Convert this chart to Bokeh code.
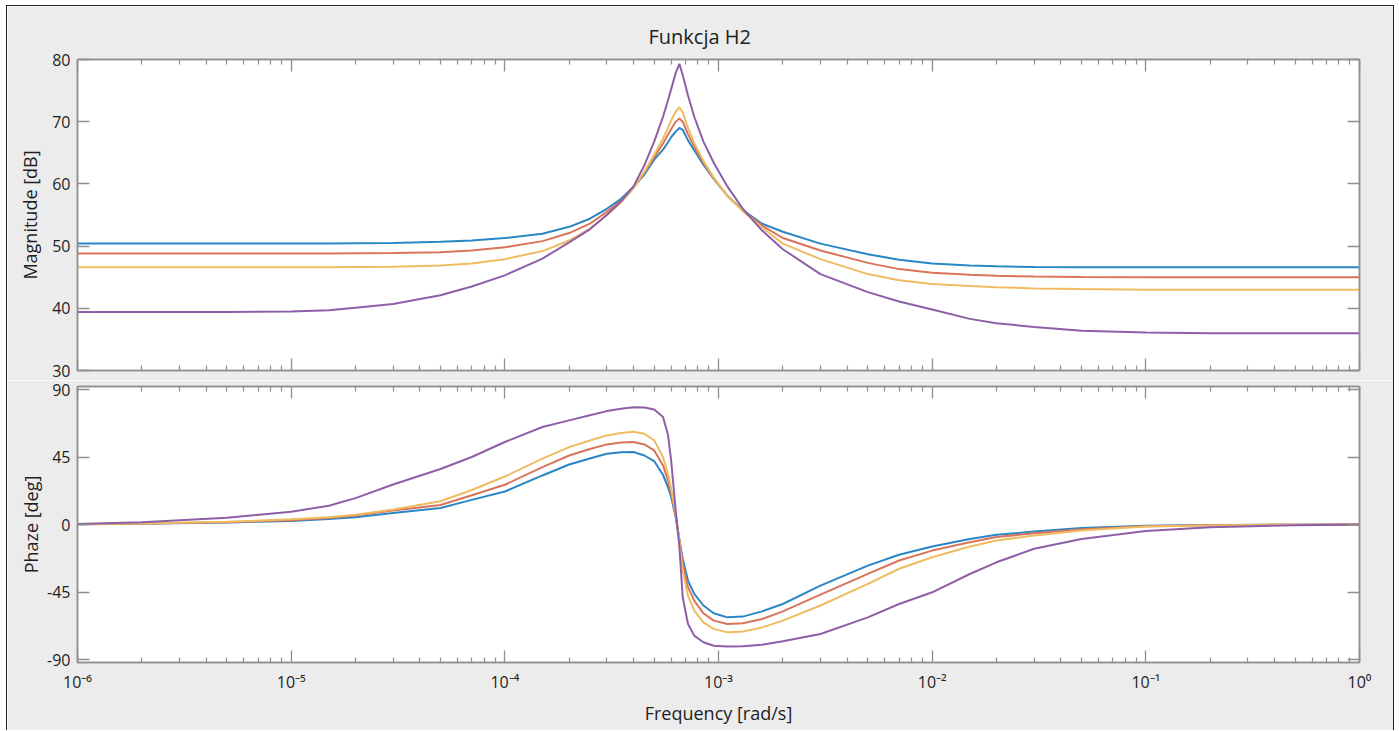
from bokeh.plotting import figure
from bokeh.models import LogAxis, LinearAxis, FixedTicker, Range1d, CustomJSTickFormatter
from bokeh.layouts import column
from bokeh.embed import file_html
from bokeh.resources import INLINE

# ---------------- data ----------------
freq = [1e-6, 2e-6, 5e-6, 1e-5, 1.5e-5, 2e-5, 3e-5, 5e-5, 7e-5, 1e-4, 1.5e-4, 2e-4, 2.5e-4,
        3e-4, 3.5e-4, 4e-4, 4.5e-4, 5e-4, 5.5e-4, 5.8e-4, 6e-4, 6.3e-4, 6.56e-4, 6.8e-4,
        7.2e-4, 7.7e-4, 8.5e-4, 9.5e-4, 1.1e-3, 1.3e-3, 1.6e-3, 2e-3, 3e-3, 5e-3, 7e-3,
        1e-2, 1.5e-2, 2e-2, 3e-2, 5e-2, 0.1, 0.2, 0.5, 1.0]

mag_blue = [50.4, 50.4, 50.4, 50.4, 50.4, 50.45, 50.5, 50.7, 50.9, 51.3, 52.0, 53.1, 54.4,
            56.0, 57.6, 59.5, 61.5, 63.9, 65.5, 66.7, 67.5, 68.4, 69.0, 68.7, 67.0, 65.4,
            63.1, 60.8, 58.1, 55.8, 53.6, 52.3, 50.4, 48.7, 47.8, 47.2, 46.9, 46.75, 46.65,
            46.6, 46.6, 46.6, 46.6, 46.6]
mag_red = [48.8, 48.8, 48.8, 48.8, 48.8, 48.85, 48.9, 49.0, 49.3, 49.8, 50.8, 52.1, 53.6,
           55.5, 57.3, 59.4, 61.8, 64.3, 66.5, 67.9, 68.8, 70.0, 70.5, 70.0, 68.0, 66.0,
           63.4, 60.9, 58.1, 55.7, 53.3, 51.3, 49.3, 47.3, 46.3, 45.7, 45.4, 45.25, 45.1,
           45.05, 45.0, 45.0, 45.0, 45.0]
mag_yellow = [46.6, 46.6, 46.6, 46.6, 46.6, 46.65, 46.7, 46.9, 47.2, 47.9, 49.2, 50.9, 52.8,
              55.0, 57.0, 59.3, 62.0, 64.7, 67.3, 69.0, 70.2, 71.6, 72.3, 71.5, 69.0, 66.6,
              63.7, 61.0, 58.1, 55.6, 53.0, 50.4, 47.9, 45.5, 44.5, 43.9, 43.6, 43.4, 43.2,
              43.1, 43.0, 43.0, 43.0, 43.0]
mag_purple = [39.4, 39.4, 39.4, 39.5, 39.7, 40.1, 40.7, 42.1, 43.5, 45.3, 48.0, 50.6, 52.7,
              55.0, 57.2, 59.6, 63.0, 66.8, 70.8, 73.4, 75.2, 77.8, 79.3, 77.5, 74.2, 70.8,
              66.8, 63.4, 59.6, 56.0, 52.5, 49.5, 45.5, 42.6, 41.1, 39.8, 38.3, 37.6, 37.0,
              36.4, 36.1, 36.0, 36.0, 36.0]

phase_blue = [0.2, 0.5, 1.3, 2.4, 3.6, 4.9, 7.6, 11.0, 16.4, 22.0, 32.7, 40.0, 44.0, 47.2,
              48.2, 48.3, 46.0, 42.3, 33.0, 25.0, 18.5, 5.0, -10.0, -23.0, -37.4, -46.3,
              -54.0, -59.2, -61.9, -61.4, -57.9, -53.0, -40.7, -27.4, -20.2, -14.7, -9.6,
              -6.9, -4.7, -2.4, -0.9, -0.4, -0.1, 0.0]
phase_red = [0.2, 0.6, 1.5, 2.9, 4.3, 6.0, 9.3, 13.0, 19.5, 26.5, 38.3, 46.0, 50.3, 53.4,
             54.6, 55.0, 53.4, 49.4, 39.4, 29.4, 21.5, 6.0, -10.5, -26.0, -41.8, -50.7,
             -59.2, -64.1, -66.3, -65.8, -63.0, -57.9, -46.7, -32.9, -24.0, -17.4, -11.8,
             -8.4, -5.8, -3.1, -1.1, -0.5, -0.1, 0.0]
phase_yellow = [0.3, 0.7, 1.8, 3.5, 4.9, 6.5, 10.0, 15.5, 23.0, 32.0, 43.9, 51.6, 56.0, 59.4,
                61.0, 61.8, 60.5, 56.1, 45.0, 33.8, 24.0, 7.5, -11.0, -30.7, -47.4, -57.4,
                -65.2, -69.6, -71.9, -71.4, -68.6, -64.1, -54.0, -39.6, -29.5, -21.8, -14.7,
                -10.7, -7.3, -4.0, -1.3, -0.6, -0.1, 0.0]
phase_purple = [0.4, 1.5, 4.5, 8.5, 12.5, 17.6, 26.7, 37.0, 45.0, 55.0, 65.0, 69.4, 72.8, 75.6,
                77.2, 78.2, 78.0, 76.6, 71.6, 60.0, 43.0, 10.0, -15.0, -48.5, -66.3, -74.1,
                -78.5, -80.8, -81.4, -81.2, -80.1, -77.9, -73.0, -61.9, -53.0, -45.2, -33.0,
                -25.2, -16.2, -9.6, -4.4, -1.8, -0.5, 0.0]

decades = [1e-6, 1e-5, 1e-4, 1e-3, 1e-2, 1e-1, 1.0]
decade_labels = ["10\u207b\u2076", "10\u207b\u2075", "10\u207b\u2074", "10\u207b\u00b3",
                 "10\u207b\u00b2", "10\u207b\u00b9", "10\u2070"]
mag_ticks = [30, 40, 50, 60, 70, 80]
phase_ticks = [-90, -45, 0, 45, 90]

title_text = "Funkcja H2"
mag_label = "Magnitude [dB]"
phase_label = "Phaze [deg]"
x_label = "Frequency [rad/s]"

series_colors = ["#2b86c5", "#d9745a", "#efbc62", "#8d5fa8"]

# ---------------- styling ----------------
FONT = "Open Sans"
BG = "#ececec"
FRAME = "#8f8f8f"
TXT = "#1e1e1e"

minor = [m * d for d in decades[:-1] for m in range(2, 10)]

fmt = CustomJSTickFormatter(args=dict(dec_vals=decades, dec_labels=decade_labels), code="""
    let best = 0, bd = 1e9;
    for (let i = 0; i < dec_vals.length; i++) {
        const d = Math.abs(Math.log10(tick) - Math.log10(dec_vals[i]));
        if (d < bd) { bd = d; best = i; }
    }
    return dec_labels[best];
""")
yfmt = CustomJSTickFormatter(code="return String(Math.round(tick));")


def style_axis(ax, show_labels):
    ax.axis_line_color = FRAME
    ax.axis_line_width = 1.5
    ax.major_tick_line_color = FRAME
    ax.minor_tick_line_color = FRAME
    ax.major_tick_line_width = 1.3
    ax.minor_tick_line_width = 1.2
    ax.major_tick_in = 12
    ax.major_tick_out = 0
    ax.minor_tick_in = 5
    ax.minor_tick_out = 0
    ax.major_label_text_font = FONT
    ax.major_label_text_color = TXT
    ax.axis_label_text_font = FONT
    ax.axis_label_text_font_style = "normal"
    ax.axis_label_text_color = TXT
    ax.axis_label_text_font_size = "18px"
    if show_labels:
        ax.major_label_text_font_size = "16px"
    else:
        ax.major_label_text_font_size = "1px"
        ax.major_label_text_alpha = 0
        ax.major_label_standoff = 0


def make_fig(height, top, bottom, yr, yticks, ylabel, show_x, label_standoff):
    p = figure(width=1386, height=height, x_axis_type="log",
               x_range=Range1d(1e-6, 1.0), y_range=Range1d(*yr),
               output_backend="svg", toolbar_location=None,
               min_border_left=70, min_border_right=34,
               min_border_top=top, min_border_bottom=bottom)
    p.background_fill_color = "white"
    p.border_fill_color = BG
    p.outline_line_color = FRAME
    p.outline_line_width = 1.5
    p.xgrid.visible = False
    p.ygrid.visible = False

    xt = FixedTicker(ticks=decades, minor_ticks=minor)
    yt = FixedTicker(ticks=yticks, minor_ticks=[])

    bx = p.below[0]
    bx.ticker = xt
    bx.formatter = fmt
    style_axis(bx, show_x)
    if show_x:
        bx.major_label_standoff = 8
        bx.axis_label = x_label
        bx.axis_label_standoff = 5

    ly = p.left[0]
    ly.ticker = yt
    ly.formatter = yfmt
    style_axis(ly, True)
    ly.major_label_standoff = 7
    ly.axis_label = ylabel
    ly.axis_label_standoff = label_standoff

    top_ax = LogAxis(ticker=xt, formatter=fmt)
    style_axis(top_ax, False)
    p.add_layout(top_ax, "above")
    right_ax = LinearAxis(ticker=yt, formatter=yfmt)
    style_axis(right_ax, False)
    p.add_layout(right_ax, "right")
    return p


p1 = make_fig(374, 53, 10, (30, 80), mag_ticks, mag_label, False, 7)
p1.title.text = title_text
p1.title.align = "left"
p1.title.offset = 571
p1.title.text_font = FONT
p1.title.text_font_size = "20px"
p1.title.text_font_style = "normal"
p1.title.text_color = TXT
p1.title.standoff = 20

p2 = make_fig(350, 6, 68, (-92, 92), phase_ticks, phase_label, True, 1)

for col, m, ph in zip(series_colors,
                      [mag_blue, mag_red, mag_yellow, mag_purple],
                      [phase_blue, phase_red, phase_yellow, phase_purple]):
    p1.line(freq, m, line_color=col, line_width=2)
    p2.line(freq, ph, line_color=col, line_width=2)

layout = column(p1, p2, margin=(5, 0, 0, 6),
                styles={"border-top": "1px solid #202020",
                        "border-left": "1px solid #202020",
                        "border-right": "1px solid #202020"})

open("out.html", "w").write(file_html(layout, INLINE, title=title_text))
